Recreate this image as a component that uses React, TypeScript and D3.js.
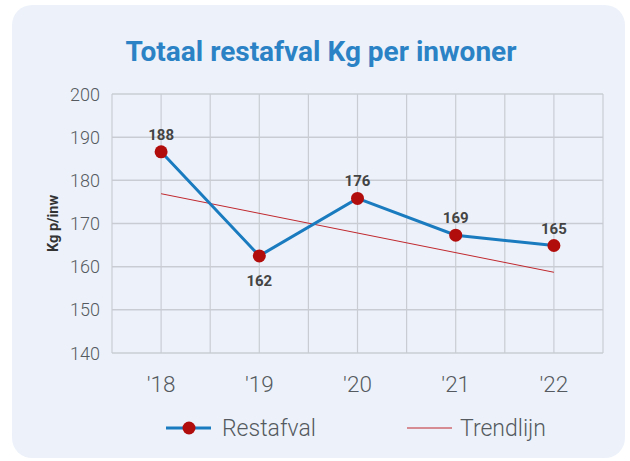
import React from "react";
import * as d3 from "d3";

const categories = ["'18", "'19", "'20", "'21", "'22"];
const values = [186.6, 162.5, 175.8, 167.3, 164.9];
const valueLabels = ["188", "162", "176", "169", "165"];
const trendValues = [176.9, 158.7];
const yTicks = [140, 150, 160, 170, 180, 190, 200];

const W = 630, H = 461;
const left = 112, right = 603, top = 94, bottom = 353;

export default function App() {
  const x = d3.scaleBand<string>().domain(categories).range([left, right]);
  const cx = (c: string) => (x(c) as number) + x.bandwidth() / 2;
  const y = d3.scaleLinear().domain([140, 200]).range([bottom, top]);
  const line = d3.line<number>().x((_, i) => cx(categories[i])).y((d) => y(d));
  const gridX: number[] = [];
  categories.forEach((c) => { gridX.push(x(c) as number); gridX.push(cx(c)); });
  gridX.push(right);
  const trendX = [cx(categories[0]), cx(categories[categories.length - 1])];
  const font = "Roboto, 'Noto Sans', sans-serif";
  return (
    <svg width={W} height={H} style={{ position: "absolute", left: 0, top: 0 }} fontFamily={font}>
      <rect x={0} y={0} width={W} height={H} fill="#ffffff" />
      <rect x={12} y={5} width={613} height={453} rx={20} fill="#edf2fa" />
      <text x={321} y={61} textAnchor="middle" fontSize={28} fontWeight={700} fill="#2b83c6">Totaal restafval Kg per inwoner</text>
      {yTicks.map((t) => (
        <line key={"gy" + t} x1={left} x2={right} y1={y(t)} y2={y(t)} stroke="#c9ccd3" strokeWidth={1.5} />
      ))}
      {gridX.map((gx, i) => (
        <line key={"gx" + i} x1={gx} x2={gx} y1={top} y2={bottom} stroke="#c9ccd3" strokeWidth={1.2} />
      ))}
      {yTicks.map((t) => (
        <text key={"ty" + t} x={100} y={y(t) + 6.5} textAnchor="end" fontSize={18} fill="#555a60" fontWeight={300}>{t}</text>
      ))}
      {categories.map((c) => (
        <text key={"tx" + c} x={cx(c)} y={392} textAnchor="middle" fontSize={22.5} fill="#555a60" fontWeight={300}>{c}</text>
      ))}
      <text transform={`translate(58,${(top + bottom) / 2}) rotate(-90)`} textAnchor="middle" fontSize={14.5} fontWeight={700} fill="#333">Kg p/inw</text>
      <line x1={trendX[0]} x2={trendX[1]} y1={y(trendValues[0])} y2={y(trendValues[1])} stroke="#c0272d" strokeWidth={1} />
      <path d={line(values) || ""} fill="none" stroke="#1a7bbf" strokeWidth={3} />
      {values.map((v, i) => (
        <circle key={"p" + i} cx={cx(categories[i])} cy={y(v)} r={6.5} fill="#b20d0d" />
      ))}
      {values.map((v, i) => {
        const below = i === 1;
        return (
          <text key={"l" + i} x={cx(categories[i])} y={below ? y(v) + 30 : y(v) - 12} textAnchor="middle" fontSize={15} fontWeight={700} fill="#444">{valueLabels[i]}</text>
        );
      })}
      <line x1={166} x2={211} y1={428} y2={428} stroke="#1a7bbf" strokeWidth={3} />
      <circle cx={189} cy={428} r={6.5} fill="#b20d0d" />
      <text x={222} y={436} fontSize={23} fill="#555a60" fontWeight={300}>Restafval</text>
      <line x1={407} x2={452} y1={428} y2={428} stroke="#c0272d" strokeWidth={1} />
      <text x={460} y={436} fontSize={23} fill="#555a60" fontWeight={300}>Trendlijn</text>
    </svg>
  );
}
